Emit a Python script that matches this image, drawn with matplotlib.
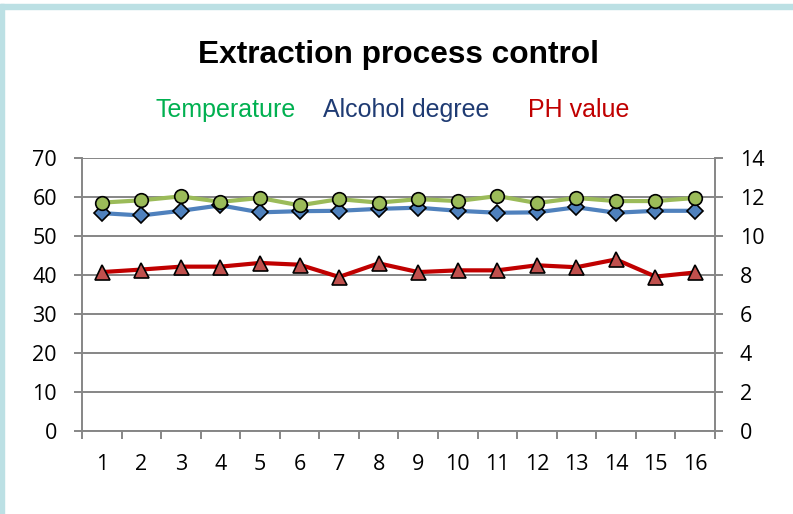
import matplotlib
matplotlib.use("Agg")
import matplotlib.pyplot as plt
from matplotlib.patches import Rectangle

# data
samples = list(range(1, 17))
temperature = [58.6, 59.2, 60.2, 58.8, 59.8, 57.9, 59.5, 58.6,
               59.5, 59.0, 60.3, 58.5, 59.8, 59.0, 59.0, 59.8]
alcohol = [55.9, 55.3, 56.5, 57.9, 56.1, 56.4, 56.5, 57.0,
           57.3, 56.5, 56.0, 56.1, 57.4, 56.0, 56.5, 56.5]
ph_value = [8.15, 8.28, 8.43, 8.43, 8.62, 8.53, 7.9, 8.6,
            8.15, 8.24, 8.24, 8.5, 8.4, 8.8, 7.92, 8.13]
left_ticks = list(range(0, 71, 10))
right_ticks = list(range(0, 15, 2))

grey = "#868686"
tick_font = "Open Sans"

fig = plt.figure(figsize=(7.93, 5.14), dpi=100)

# light blue frame of the original screenshot
fig.patches.append(Rectangle((0, 0), 0.005, 0.992, transform=fig.transFigure,
                             color="#BCE0E4", zorder=0))
fig.patches.append(Rectangle((0, 0.982), 1, 0.011, transform=fig.transFigure,
                             color="#BCE0E4", zorder=0))

ax = fig.add_axes([0.1034, 0.1621, 0.798, 0.530])
ax2 = ax.twinx()

ax.plot(samples, alcohol, color="#4F81BD", lw=3.0, marker="D", ms=7.8,
        mfc="#4F81BD", mec="black", mew=1.2, zorder=3)
ax.plot(samples, temperature, color="#9BBB59", lw=3.0, marker="o", ms=9.8,
        mfc="#9BBB59", mec="black", mew=1.2, zorder=4)
ax2.plot(samples, ph_value, color="#C00000", lw=3.0, marker="^", ms=10.8,
         mfc="#C0504D", mec="black", mew=1.2, zorder=3)

ax.set_xlim(0.5, 16.5)
ax.set_ylim(0, 70)
ax2.set_ylim(0, 14)
ax.set_yticks(left_ticks)
ax2.set_yticks(right_ticks)
ax.set_xticks(samples)
ax.set_xticks([i + 0.5 for i in range(0, 17)], minor=True)

ax.yaxis.grid(True, color=grey, lw=1.4)
ax.set_axisbelow(True)

for a in (ax, ax2):
    a.spines["top"].set_visible(False)
    for side in ("left", "right", "bottom"):
        a.spines[side].set_color(grey)
        a.spines[side].set_linewidth(1.4)
ax2.spines["left"].set_visible(False)
ax2.spines["bottom"].set_visible(False)
ax.spines["right"].set_visible(False)

ax.tick_params(axis="y", length=6, width=1.4, color=grey, pad=12,
               labelsize=15.5)
ax2.tick_params(axis="y", length=6, width=1.4, color=grey, pad=12,
                labelsize=15.5)
ax.tick_params(axis="x", which="major", length=0, pad=17, labelsize=15.5)
ax.tick_params(axis="x", which="minor", length=6, width=1.4, color=grey)
for lab in ax.get_xticklabels() + ax.get_yticklabels() + ax2.get_yticklabels():
    lab.set_fontfamily(tick_font)

fig.text(0.502, 0.893, "Extraction process control", ha="center", va="center",
         fontsize=22.8, fontweight="bold", family="Liberation Sans")
fig.text(0.196, 0.786, "Temperature", ha="left", va="center",
         fontsize=18, color="#00B050", family="Liberation Sans")
fig.text(0.407, 0.786, "Alcohol degree", ha="left", va="center",
         fontsize=18, color="#1F3B73", family="Liberation Sans")
fig.text(0.666, 0.786, "PH value", ha="left", va="center",
         fontsize=18, color="#C00000", family="Liberation Sans")

fig.savefig("out.png", dpi=100)
